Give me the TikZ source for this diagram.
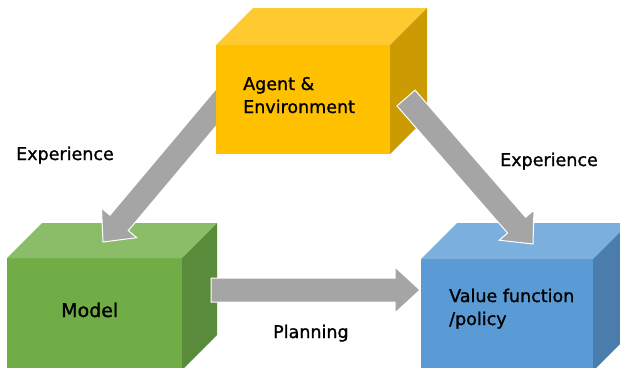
\documentclass[tikz,border=0pt]{standalone}
\usepackage{fontspec}
\setmainfont{DejaVu Sans}[FakeBold=1.2]
\usetikzlibrary{calc}
\definecolor{yfront}{HTML}{FFC000}
\definecolor{ytop}{HTML}{FFCA30}
\definecolor{yside}{HTML}{CC9A02}
\definecolor{gfront}{HTML}{70AD47}
\definecolor{gtop}{HTML}{8BBD68}
\definecolor{gside}{HTML}{5A8B3A}
\definecolor{bfront}{HTML}{5B9BD5}
\definecolor{btop}{HTML}{7BAFDE}
\definecolor{bside}{HTML}{4A7DAB}
\definecolor{arrowgray}{HTML}{A5A5A5}
\tikzset{
  front/.style={rectangle, inner sep=0pt, outer sep=0pt},
  lbl/.style={font=\fontsize{17.5}{23}\selectfont, text=black, inner sep=0pt},
  blockarrow/.style={fill=arrowgray, draw=white, line width=1pt, line join=miter},
}
\newcommand\cubefaces[4]{% name, depth, topcolor, sidecolor
  \fill[#3] (#1.north west) -- ++(#2,-#2) -- ($(#1.north east)+(#2,-#2)$) -- (#1.north east) -- cycle;
  \fill[#4] (#1.north east) -- ++(#2,-#2) -- ($(#1.south east)+(#2,-#2)$) -- (#1.south east) -- cycle;
}
\newcommand\blockarr[2]{%
  \draw[blockarrow] let \p1=(#1), \p2=(#2),
      \n1={atan2(\y2-\y1,\x2-\x1)}, \n2={veclen(\x2-\x1,\y2-\y1)} in
    [shift={(\p1)}, rotate=\n1]
    (0,-12) -- (\n2-25,-12) -- (\n2-25,-23) -- (\n2,0) -- (\n2-25,23) -- (\n2-25,12) -- (0,12) -- cycle;
}
\begin{document}
\begin{tikzpicture}[x=1pt,y=-1pt]
\useasboundingbox (0,0) rectangle (620,367);
\clip (0,0) rectangle (620,367);

% left arrow (behind top box)
\coordinate (la1) at (230,91);
\coordinate (la2) at (103,242);

% Model box
\node[front, fill=gfront, minimum width=175pt, minimum height=112pt] (model) at (94.5,314) {};
\cubefaces{model}{35}{gtop}{gside}
% Value box
\node[front, fill=bfront, minimum width=172pt, minimum height=112pt] (value) at (507,315) {};
\cubefaces{value}{36}{btop}{bside}

\blockarr{la1}{la2}

% Agent box
\node[front, fill=yfront, minimum width=174pt, minimum height=109pt] (agent) at (303,99.5) {};
\cubefaces{agent}{37}{ytop}{yside}

% right arrow
\coordinate (ra1) at (406,98);
\coordinate (ra2) at (533,244);
\blockarr{ra1}{ra2}

% bottom arrow
\coordinate (ba1) at (211,290);
\coordinate (ba2) at (420,290);
\blockarr{ba1}{ba2}

% texts
\node[lbl, anchor=base west, align=left] (agenttxt) at (243,113) {Agent \&\\Environment};
\node[lbl, anchor=base west] (modeltxt) at (61,317) {\fontsize{19}{23}\selectfont Model};
\node[lbl, anchor=base west, align=left] (valuetxt) at (449,325) {Value function\\/policy};
\node[lbl, anchor=base west] (exp1) at (16,160) {Experience};
\node[lbl, anchor=base west] (exp2) at (500,166) {Experience};
\node[lbl, anchor=base west] (plan) at (273,338) {Planning};
\end{tikzpicture}
\end{document}
